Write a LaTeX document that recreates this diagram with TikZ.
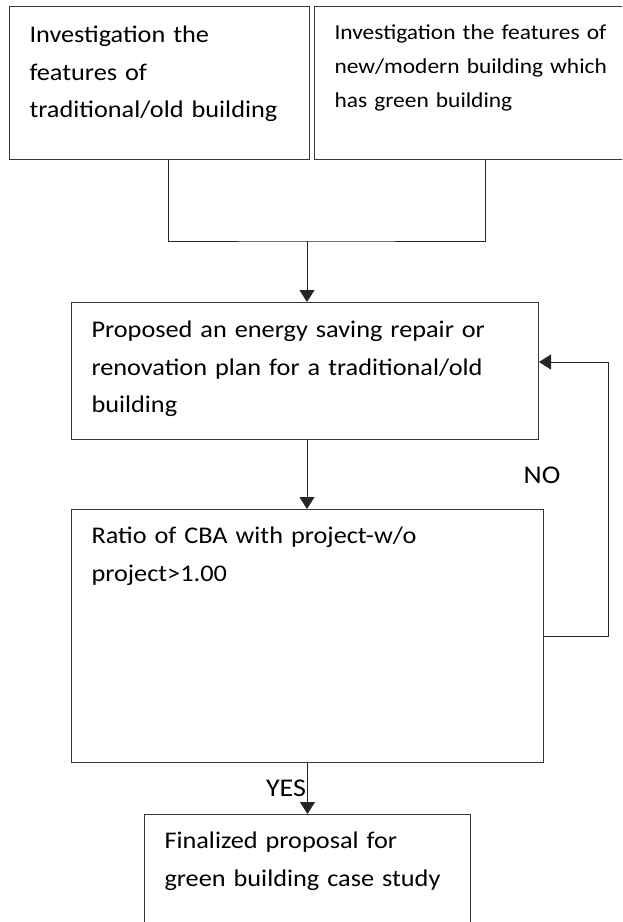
\documentclass[tikz,border=0pt]{standalone}
\usepackage{fontspec}
\setmainfont{Carlito}[FakeStretch=1.1]
\usepackage{xcolor}
\usetikzlibrary{arrows.meta,positioning}
\definecolor{edge}{RGB}{55,55,55}

\begin{document}
\begin{tikzpicture}[
  x=1pt, y=-1pt,
  box/.style={draw=edge, line width=1pt, anchor=north west, align=left,
    inner xsep=20pt, inner ysep=0pt, font=\fontsize{23.9}{37.5}\selectfont},
  smallbox/.style={box, font=\fontsize{21.3}{34}\selectfont},
  lbl/.style={font=\fontsize{25.5}{30}\selectfont, inner sep=1pt},
  link/.style={draw=black!85, line width=1pt},
  flow/.style={link, -{Triangle[length=12pt,width=15pt]}}
]
\clip (0,0) rectangle (622,922);
\node[box, text width=260pt, text height=36pt, text depth=117pt] (trad) at (9,6)
  {Investigation the\\features of\\traditional/old building};
\node[smallbox, text width=290pt, text height=33pt, text depth=120pt] (modern) at (314,6)
  {Investigation the features of\\new/modern building which\\has green building};
\node[box, text width=427pt, text height=35pt, text depth=102pt] (plan) at (71,302)
  {Proposed an energy saving repair or\\renovation plan for a traditional/old\\building};
\node[box, text width=432pt, text height=34pt, text depth=219pt] (ratio) at (71,509)
  {Ratio of CBA with project-w/o\\project>1.00};
\node[box, text width=286pt, text height=34pt, text depth=140pt] (final) at (144,814)
  {Finalized proposal for\\green building case study};
\node[lbl] (no) at (542,475) {NO};
\coordinate (merge) at (307,241);
\coordinate (loop) at (608,362);
\draw[link] ([xshift=9pt]trad.south) |- (merge) -| ([xshift=6pt]modern.south);
\draw[flow] (merge) -- (merge |- plan.north);
\draw[flow] (plan.south -| merge) -- (ratio.north -| merge);
\draw[flow] (ratio.south) -- node[lbl, left] (yes) {YES} (final.north);
\draw[flow] (ratio.east) -| (loop) -- (plan.east |- loop);
\end{tikzpicture}
\end{document}
